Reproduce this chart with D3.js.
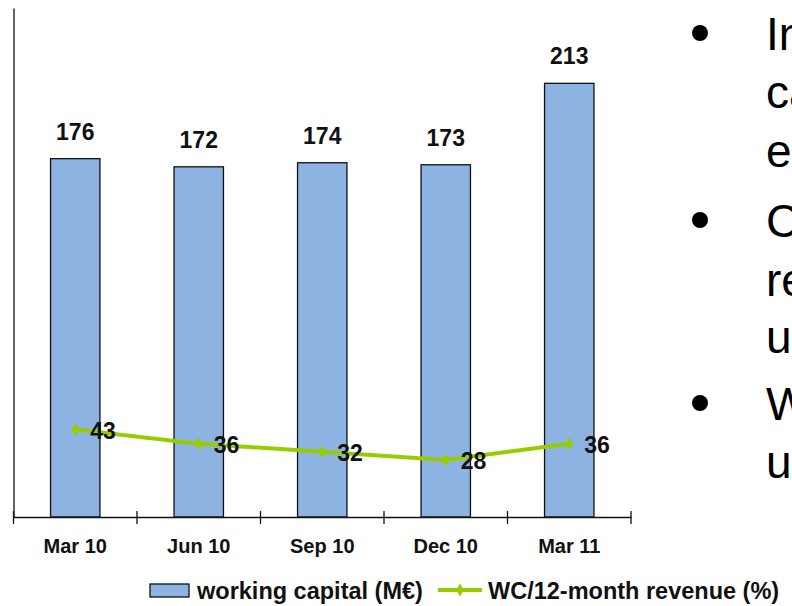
<!DOCTYPE html>
<html>
<head>
<meta charset="utf-8">
<script src="https://cdn.jsdelivr.net/npm/d3@7/dist/d3.min.js"></script>
<style>
  html, body { margin: 0; padding: 0; background: #ffffff; overflow: hidden; }
  svg { display: block; }
  text { font-family: "Liberation Sans", Arial, sans-serif; }
</style>
</head>
<body>
<div id="chart"></div>
<script>
// Quarterly working capital and its ratio to trailing revenue
const quarters = ["Mar 10", "Jun 10", "Sep 10", "Dec 10", "Mar 11"];
const workingCapital = [176, 172, 174, 173, 213];      // M€
const wcToRevenue = [43, 36, 32, 28, 36];              // %
const legendLabels = ["working capital (M€)", "WC/12-month revenue (%)"];
const bulletLines = [
  ["In", "ca", "ex"],
  ["C", "re", "u"],
  ["W", "u"]
];

const W = 792, H = 606;
const barFill = "#8DB3E2";
const lineColor = "#99CC00";
const ink = "#111111";

const svg = d3.select("#chart").append("svg")
  .attr("width", W).attr("height", H);

const plot = { left: 13.5, right: 631, top: 8, bottom: 517 };

const x = d3.scaleBand()
  .domain(quarters)
  .range([plot.left, plot.right])
  .paddingInner(0.6)
  .paddingOuter(0.3);

const y = d3.scaleLinear()
  .domain([0, 250])
  .range([plot.bottom, plot.top]);

const step = x.step();
const center = d => x(d) + x.bandwidth() / 2;

// bars
svg.append("g").selectAll("rect")
  .data(quarters)
  .join("rect")
  .attr("x", d => x(d))
  .attr("y", (d, i) => y(workingCapital[i]))
  .attr("width", x.bandwidth())
  .attr("height", (d, i) => y(0) - y(workingCapital[i]))
  .attr("fill", barFill)
  .attr("stroke", ink)
  .attr("stroke-width", 1.3);

// bar value labels
svg.append("g").selectAll("text")
  .data(quarters)
  .join("text")
  .attr("x", d => center(d))
  .attr("y", (d, i) => y(workingCapital[i]) - 19)
  .attr("text-anchor", "middle")
  .attr("font-size", 23)
  .attr("font-weight", "bold")
  .attr("fill", ink)
  .text((d, i) => workingCapital[i]);

// y axis (plain line)
const yAxis = svg.append("g")
  .attr("transform", `translate(${plot.left},0)`)
  .call(d3.axisLeft(y).ticks(0).tickSizeOuter(0));
yAxis.select(".domain").attr("stroke", ink).attr("stroke-width", 1.3);

// x axis with category labels
const xAxis = svg.append("g")
  .attr("transform", `translate(0,${plot.bottom})`)
  .call(d3.axisBottom(x).tickSize(0).tickSizeOuter(0).tickPadding(22));
xAxis.select(".domain").attr("stroke", ink).attr("stroke-width", 1.3);
xAxis.selectAll(".tick text")
  .attr("font-family", "Liberation Sans, Arial, sans-serif")
  .attr("font-size", 20)
  .attr("font-weight", "bold")
  .attr("fill", ink);

// boundary ticks between categories
const boundaries = quarters.map(d => x(d) - x.paddingOuter() * step)
  .concat([x(quarters[quarters.length - 1]) + x.bandwidth() + x.paddingOuter() * step]);
svg.append("g").selectAll("line")
  .data(boundaries)
  .join("line")
  .attr("x1", d => d).attr("x2", d => d)
  .attr("y1", plot.bottom - 6).attr("y2", plot.bottom + 7)
  .attr("stroke", ink).attr("stroke-width", 1.3);

// ratio line
const line = d3.line()
  .x((d, i) => center(quarters[i]))
  .y(d => y(d));
svg.append("path")
  .datum(wcToRevenue)
  .attr("d", line)
  .attr("fill", "none")
  .attr("stroke", lineColor)
  .attr("stroke-width", 4);

const diamond = d3.symbol().type(d3.symbolDiamond).size(50);
svg.append("g").selectAll("path")
  .data(wcToRevenue)
  .join("path")
  .attr("transform", (d, i) => `translate(${center(quarters[i])},${y(d)})`)
  .attr("d", diamond)
  .attr("fill", lineColor);

svg.append("g").selectAll("text")
  .data(wcToRevenue)
  .join("text")
  .attr("x", (d, i) => center(quarters[i]) + 15)
  .attr("y", d => y(d) + 1)
  .attr("dy", "0.36em")
  .attr("font-size", 23)
  .attr("font-weight", "bold")
  .attr("fill", ink)
  .text(d => d);

// legend
const lg = svg.append("g");
lg.append("rect")
  .attr("x", 150).attr("y", 584).attr("width", 39).attr("height", 13)
  .attr("fill", barFill).attr("stroke", ink).attr("stroke-width", 1.3);
lg.append("text")
  .attr("x", 197).attr("y", 599)
  .attr("font-size", 23.5).attr("font-weight", "bold").attr("fill", ink)
  .text(legendLabels[0]);
lg.append("line")
  .attr("x1", 438).attr("x2", 482).attr("y1", 590).attr("y2", 590)
  .attr("stroke", lineColor).attr("stroke-width", 4);
lg.append("path")
  .attr("transform", "translate(460,590)")
  .attr("d", diamond)
  .attr("fill", lineColor);
lg.append("text")
  .attr("x", 488).attr("y", 599)
  .attr("font-size", 23.5).attr("font-weight", "bold").attr("fill", ink)
  .text(legendLabels[1]);

// bullet text column
const baselines = [[50, 108, 167], [237, 296, 353], [420, 478]];
const bullets = svg.append("g");
bulletLines.forEach((lines, p) => {
  bullets.append("circle")
    .attr("cx", 700).attr("cy", baselines[p][0] - 17).attr("r", 8)
    .attr("fill", "#000");
  lines.forEach((t, k) => {
    bullets.append("text")
      .attr("x", 766).attr("y", baselines[p][k])
      .attr("font-size", 46).attr("fill", "#000")
      .text(t);
  });
});
</script>
</body>
</html>
